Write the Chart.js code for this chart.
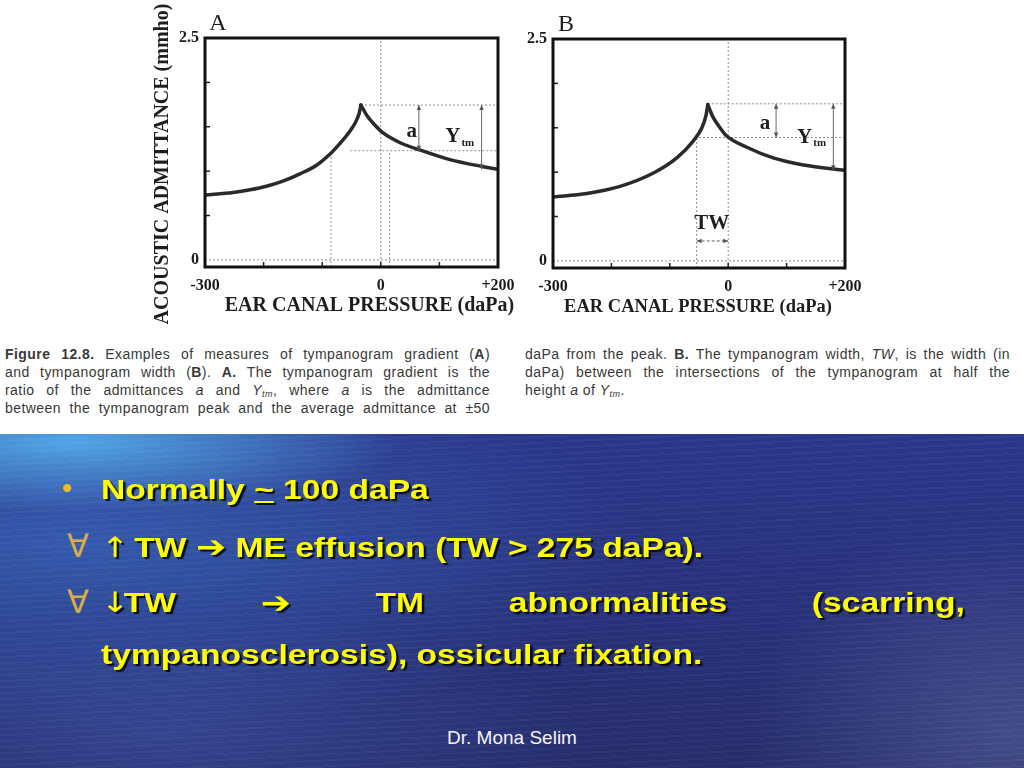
<!DOCTYPE html>
<html>
<head>
<meta charset="utf-8">
<script src="https://cdn.jsdelivr.net/npm/chart.js@4.4.1/dist/chart.umd.min.js"></script>
<style>
  html, body { margin: 0; padding: 0; }
  body { width: 1024px; height: 768px; position: relative; overflow: hidden; background: #fff; }
  canvas { position: absolute; top: 0; }
  #chartA { left: 140px; }
  #chartB { left: 500px; }
  .cap { position: absolute; width: 485px; font: 14px "Liberation Sans", Arial, sans-serif; letter-spacing: 0.45px;
         color: #383838; white-space: nowrap; text-align: justify; text-align-last: justify; line-height: 18px; }
  .cap.last { text-align-last: left; }
  .cap sub { font-size: 9px; vertical-align: -2px; }
  .sea { position: absolute; left: 0; top: 434px; width: 1024px; height: 334px;
    background:
      repeating-linear-gradient(177deg, rgba(255,255,255,0.035) 0 2px, rgba(0,0,0,0) 2px 6px),
      radial-gradient(ellipse 330px 70px at 70px 8px, rgba(85,175,240,0.9), rgba(85,175,240,0) 100%),
      radial-gradient(ellipse 560px 190px at 80px 110px, rgba(60,115,205,0.6), rgba(60,115,205,0) 100%),
      radial-gradient(ellipse 420px 120px at 160px 300px, rgba(70,95,180,0.45), rgba(70,95,180,0) 100%),
      radial-gradient(ellipse 260px 220px at 1010px 300px, rgba(100,112,165,0.45), rgba(100,112,165,0) 100%),
      linear-gradient(180deg, #2a378a 0%, #28317c 45%, #262d6c 100%);
  }
  .line { position: absolute; left: 101px; font: bold 28px "Liberation Sans", Arial, sans-serif; line-height: 28px;
          color: #ffff00; text-shadow: 2px 2px 1px rgba(0,0,0,0.85); white-space: nowrap;
          transform: scaleX(1.2); transform-origin: 0 0; }
  .just { width: 720px; display: flex; justify-content: space-between; }
  .mark { position: absolute; left: 67px; font: 32px "DejaVu Sans", sans-serif; line-height: 32px; color: #d6ac4c; }
  .dot { position: absolute; left: 62px; font: bold 28px "Liberation Sans", Arial, sans-serif; line-height: 28px; color: #f2bb22; }
  .arrow { font-family: "DejaVu Sans", sans-serif; font-weight: bold; font-size: 30px; }
  .vert { font-family: "DejaVu Sans", sans-serif; font-weight: normal; display: inline-block; text-align: center;
          overflow: visible; }
  .up { width: 20px; }
  .down { width: 19px; }
  .footer { position: absolute; left: 0; width: 1024px; top: 727px; text-align: center;
            font: 19px "Liberation Sans", Arial, sans-serif; color: #f4f4f4; }
</style>
</head>
<body>
<canvas id="chartA" width="390" height="330"></canvas>
<canvas id="chartB" width="390" height="330"></canvas>

<div class="cap" style="left:5px; top:345px;"><b>Figure 12.8.</b> Examples of measures of tympanogram gradient (<b>A</b>)</div>
<div class="cap" style="left:5px; top:363px;">and tympanogram width (<b>B</b>). <b>A.</b> The tympanogram gradient is the</div>
<div class="cap" style="left:5px; top:381px;">ratio of the admittances <i>a</i> and <i>Y<sub>tm</sub></i>, where <i>a</i> is the admittance</div>
<div class="cap" style="left:5px; top:399px;">between the tympanogram peak and the average admittance at ±50</div>
<div class="cap" style="left:525px; top:345px;">daPa from the peak. <b>B.</b> The tympanogram width, <i>TW</i>, is the width (in</div>
<div class="cap" style="left:525px; top:363px;">daPa) between the intersections of the tympanogram at half the</div>
<div class="cap last" style="left:525px; top:381px;">height <i>a</i> of <i>Y<sub>tm</sub></i>.</div>

<div class="sea"></div>
<div class="dot" style="top:474px;">•</div>
<div class="line" style="top:476px;">Normally <u>~</u> 100 daPa</div>
<div class="mark" style="top:530px;">∀</div>
<div class="line" style="top:533px;"><span class="vert up">↑</span> TW <span class="arrow">➔</span> ME effusion (TW &gt; 275 daPa).</div>
<div class="mark" style="top:586px;">∀</div>
<div class="line just" style="top:589px;"><span><span class="vert down">↓</span>TW</span><span class="arrow">➔</span><span>TM</span><span>abnormalities</span><span>(scarring,</span></div>
<div class="line" style="top:641px;">tympanosclerosis), ossicular fixation.</div>
<div class="footer">Dr. Mona Selim</div>

<script>
// axis ticks (daPa / mmho)
const pressureTicks = [-300, -200, -100, 0, 100, 200];
const pressureLabels = { '-300': '-300', '0': '0', '200': '+200' };
const admittanceTicks = [0, 0.5, 1, 1.5, 2, 2.5];
const admittanceLabels = { '0': '0', '2.5': '2.5' };

// panel A tympanogram, split at the peak so the cusp stays sharp
const aRisePressure = [-300, -252, -223, -195, -166, -138, -109, -87, -70, -55, -44, -37, -34];
const aRiseAdmit    = [0.73, 0.76, 0.79, 0.83, 0.89, 0.97, 1.07, 1.19, 1.31, 1.43, 1.54, 1.65, 1.745];
const aFallPressure = [-34, -24, -13, 4, 33, 66, 118, 175, 200];
const aFallAdmit    = [1.745, 1.63, 1.54, 1.43, 1.32, 1.24, 1.13, 1.05, 1.02];

// panel B tympanogram
const bRisePressure = [-300, -242, -185, -128, -88, -60, -45, -38, -35];
const bRiseAdmit    = [0.72, 0.76, 0.84, 0.99, 1.16, 1.35, 1.50, 1.64, 1.76];
const bFallPressure = [-35, -26, -14, -3, 32, 77, 129, 200];
const bFallAdmit    = [1.76, 1.62, 1.50, 1.41, 1.28, 1.16, 1.08, 1.02];

// dotted guide segments [x1, y1, x2, y2]
const guidesA = [[0, -0.08, 0, 2.5], [-85, -0.08, -85, 1.21], [15, -0.08, 15, 1.23],
                 [-52, 1.23, 200, 1.23], [-34, 1.745, 200, 1.745], [-300, 0, 200, 0]];
const guidesB = [[0, -0.08, 0, 2.5], [-54, -0.08, -54, 1.39],
                 [-50, 1.39, 200, 1.39], [-35, 1.77, 200, 1.77], [-300, 0, 200, 0]];

// double arrows: vertical [x, yTop, yBottom], horizontal [y, xLeft, xRight]
const vArrowsA = [[65, 1.745, 1.23], [172, 1.745, 1.02]];
const vArrowsB = [[82, 1.77, 1.39], [180, 1.77, 1.02]];
const hArrowsB = [[0.225, -54, 0]];

// in-plot labels [text, subscript, x, y]
const notesA = [['a', '', 53, 1.445], ['Y', 'tm', 123, 1.385]];
const notesB = [['a', '', 63, 1.55], ['Y', 'tm', 131, 1.39], ['TW', '', -28, 0.42]];

const pts = (xs, ys) => xs.map((x, i) => ({ x: x, y: ys[i] }));

function curve(xs, ys) {
    return { data: pts(xs, ys), borderColor: '#2a2a2a', borderWidth: 3.5, pointRadius: 0,
             cubicInterpolationMode: 'monotone', borderCapStyle: 'round', fill: false };
}

function guide(seg) {
    return { data: [{ x: seg[0], y: seg[1] }, { x: seg[2], y: seg[3] }], borderColor: '#8c8c8c',
             borderWidth: 1, borderDash: [2, 2], pointRadius: 0, tension: 0, fill: false };
}

function head(ctx, x, y, dx, dy) {
    ctx.beginPath();
    ctx.moveTo(x, y);
    ctx.lineTo(x - dx * 5 - dy * 2.2, y - dy * 5 - dx * 2.2);
    ctx.lineTo(x - dx * 5 + dy * 2.2, y - dy * 5 + dx * 2.2);
    ctx.closePath();
    ctx.fill();
}

const figurePlugin = {
    id: 'figure',
    afterDraw(chart, args, opts) {
        const { ctx, chartArea: ca } = chart;
        const x = chart.scales.x, y = chart.scales.y;
        ctx.save();

        // inward tick marks
        ctx.strokeStyle = '#222';
        ctx.lineWidth = 1.5;
        pressureTicks.slice(1, -1).forEach(v => {
            const px = x.getPixelForValue(v);
            ctx.beginPath(); ctx.moveTo(px, ca.bottom); ctx.lineTo(px, ca.bottom - 5); ctx.stroke();
        });
        admittanceTicks.slice(1, -1).forEach(v => {
            const py = y.getPixelForValue(v);
            ctx.beginPath(); ctx.moveTo(ca.left, py); ctx.lineTo(ca.left + 5, py); ctx.stroke();
        });

        // frame
        ctx.strokeStyle = '#111';
        ctx.lineWidth = 3;
        ctx.strokeRect(ca.left, ca.top, ca.right - ca.left, ca.bottom - ca.top);

        // arrows
        ctx.strokeStyle = '#666';
        ctx.fillStyle = '#555';
        ctx.lineWidth = 1;
        (opts.vArrows || []).forEach(a => {
            const px = x.getPixelForValue(a[0]);
            const y1 = y.getPixelForValue(a[1]), y2 = y.getPixelForValue(a[2]);
            ctx.beginPath(); ctx.moveTo(px, y1); ctx.lineTo(px, y2); ctx.stroke();
            head(ctx, px, y1, 0, -1); head(ctx, px, y2, 0, 1);
        });
        (opts.hArrows || []).forEach(a => {
            const py = y.getPixelForValue(a[0]);
            const x1 = x.getPixelForValue(a[1]), x2 = x.getPixelForValue(a[2]);
            ctx.setLineDash([3, 2]);
            ctx.beginPath(); ctx.moveTo(x1, py); ctx.lineTo(x2, py); ctx.stroke();
            ctx.setLineDash([]);
            head(ctx, x1, py, -1, 0); head(ctx, x2, py, 1, 0);
        });

        // labels inside the plot
        ctx.fillStyle = '#1e1e1e';
        ctx.textBaseline = 'middle';
        (opts.notes || []).forEach(n => {
            const px = x.getPixelForValue(n[2]), py = y.getPixelForValue(n[3]);
            ctx.font = 'bold 21px "Liberation Serif", serif';
            ctx.textAlign = 'center';
            ctx.fillText(n[0], px, py);
            if (n[1]) {
                const w = ctx.measureText(n[0]).width;
                ctx.font = 'bold 11px "Liberation Serif", serif';
                ctx.textAlign = 'left';
                ctx.fillText(n[1], px + w / 2 + 1, py + 6);
            }
        });

        // panel letter and axis titles
        ctx.textAlign = 'center';
        ctx.font = '24px "Liberation Serif", serif';
        ctx.fillText(opts.letter, ca.left + 13, ca.top - 14);
        ctx.font = 'bold ' + opts.xTitleSize + 'px "Liberation Serif", serif';
        ctx.fillText('EAR CANAL PRESSURE (daPa)', (ca.left + ca.right) / 2 + opts.xTitleShift, ca.bottom + 39);
        if (opts.yTitle) {
            ctx.translate(ca.left - 42, 164);
            ctx.rotate(-Math.PI / 2);
            ctx.font = 'bold 20px "Liberation Serif", serif';
            ctx.fillText(opts.yTitle, 0, 0);
        }
        ctx.restore();
    }
};

function makeChart(id, rise, fall, guides, axisWidth, axisHeight, padRight, padTop, fig) {
    const datasets = [curve(rise[0], rise[1]), curve(fall[0], fall[1])].concat(guides.map(guide));
    return new Chart(document.getElementById(id), {
        type: 'line',
        data: { datasets: datasets },
        plugins: [figurePlugin],
        options: {
            responsive: false,
            animation: false,
            devicePixelRatio: 1,
            layout: { padding: { top: padTop, right: padRight, left: 0, bottom: 0 } },
            plugins: { legend: { display: false }, tooltip: { enabled: false }, figure: fig },
            scales: {
                x: {
                    type: 'linear', min: -300, max: 200,
                    afterBuildTicks: s => { s.ticks = pressureTicks.map(v => ({ value: v })); },
                    afterFit: s => { s.height = axisHeight; },
                    grid: { display: false, drawTicks: false },
                    border: { display: false },
                    ticks: { autoSkip: false, maxRotation: 0, padding: 9, color: '#1a1a1a',
                             font: { family: '"Liberation Serif", serif', weight: 'bold', size: 16 },
                             callback: v => pressureLabels[String(v)] || '' }
                },
                y: {
                    type: 'linear', min: -0.08, max: 2.5,
                    afterBuildTicks: s => { s.ticks = admittanceTicks.map(v => ({ value: v })); },
                    afterFit: s => { s.width = axisWidth; },
                    grid: { display: false, drawTicks: false },
                    border: { display: false },
                    ticks: { autoSkip: false, padding: 6, color: '#1a1a1a',
                             font: { family: '"Liberation Serif", serif', weight: 'bold', size: 16 },
                             callback: v => admittanceLabels[String(v)] || '' }
                }
            }
        }
    });
}

makeChart('chartA', [aRisePressure, aRiseAdmit], [aFallPressure, aFallAdmit], guidesA, 65, 63, 32, 38,
    { letter: 'A', xTitleSize: 20, xTitleShift: 18, yTitle: 'ACOUSTIC ADMITTANCE (mmho)',
      vArrows: vArrowsA, hArrows: [], notes: notesA });
makeChart('chartB', [bRisePressure, bRiseAdmit], [bFallPressure, bFallAdmit], guidesB, 53, 62, 45, 39,
    { letter: 'B', xTitleSize: 18.5, xTitleShift: -1, yTitle: '',
      vArrows: vArrowsB, hArrows: hArrowsB, notes: notesB });
</script>
</body>
</html>
